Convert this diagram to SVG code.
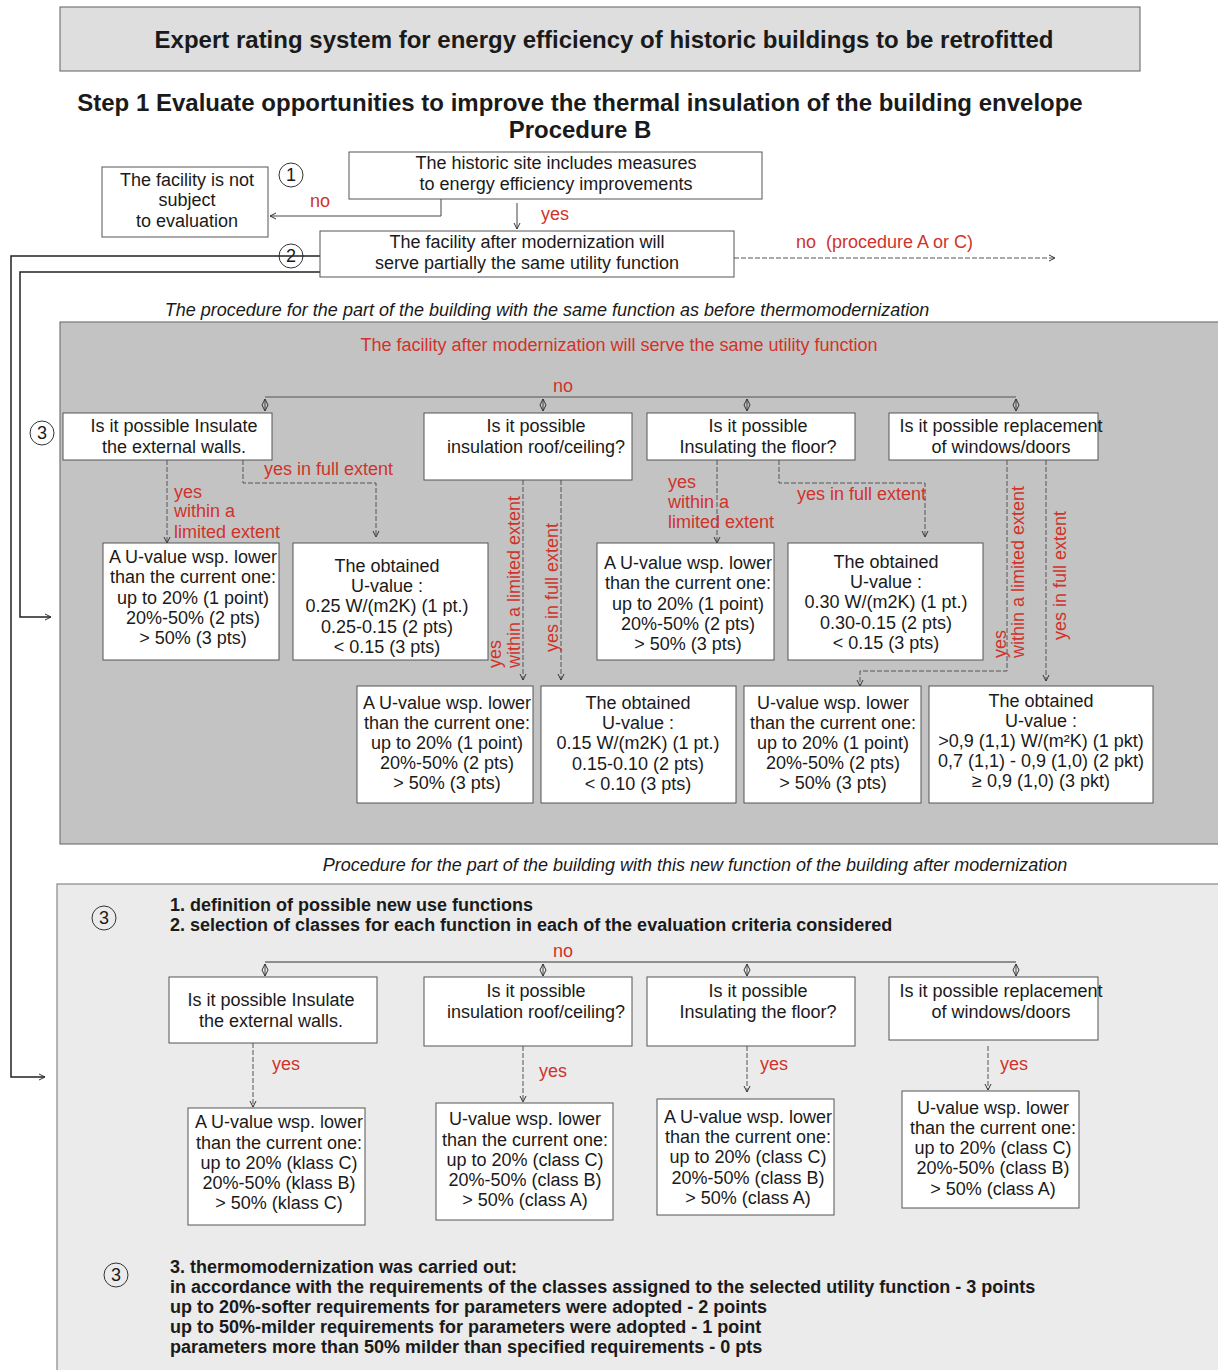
<svg xmlns="http://www.w3.org/2000/svg" width="1218" height="1370" viewBox="0 0 1218 1370">
<defs>
<marker id="arr" markerUnits="userSpaceOnUse" markerWidth="10" markerHeight="10" refX="7" refY="4" orient="auto-start-reverse">
<path d="M1,1 L7,4 L1,7" fill="none" stroke="#333" stroke-width="1"/>
</marker>
</defs>
<style>
text{font-family:"Liberation Sans",Arial,sans-serif;fill:#1a1a1a}
.t{font-size:18px;text-anchor:middle}
.r{font-size:18px;fill:#d0332b}
.rc{font-size:18px;fill:#d0332b;text-anchor:middle}
.b{font-weight:bold}
.bs{font-weight:bold;font-size:18px}
.h{font-weight:bold;font-size:24px;text-anchor:middle}
.it{font-style:italic;font-size:18px;text-anchor:middle}
.box{fill:#fff;stroke:#555;stroke-width:1}
.c{fill:none;stroke:#333;stroke-width:1}
.ln{fill:none;stroke:#444;stroke-width:1}
.dl{fill:none;stroke:#555;stroke-width:1;stroke-dasharray:5 2}
.ar{marker-end:url(#arr)}
.da{marker-start:url(#arr);marker-end:url(#arr)}
.thick{fill:none;stroke:#222;stroke-width:1.5}
</style>

<g id="panels">
<rect x="60" y="7" width="1080" height="64" fill="#dedede" stroke="#777" stroke-width="1.2"/>
<rect x="60" y="322" width="1160" height="522" fill="#c3c3c3" stroke="#777" stroke-width="1.2"/>
<rect x="57" y="884" width="1163" height="490" fill="#ebebeb" stroke="#888" stroke-width="1.2"/>
</g>

<g id="headings">
<text x="604" y="48" class="h">Expert rating system for energy efficiency of historic buildings to be retrofitted</text>
<text x="580" y="111" class="h">Step 1 Evaluate opportunities to improve the thermal insulation of the building envelope</text>
<text x="580" y="138" class="h">Procedure B</text>
<text x="547" y="316" class="it">The procedure for the part of the building with the same function as before thermomodernization</text>
<text x="695" y="871" class="it">Procedure for the part of the building with this new function of the building after modernization</text>
<text x="619" y="351" class="rc">The facility after modernization will serve the same utility function</text>
</g>

<g id="markers-circles">
<circle cx="291" cy="175" r="12" class="c"/><text x="291" y="181" class="t">1</text>
<circle cx="291" cy="256" r="12" class="c"/><text x="291" y="262" class="t">2</text>
<circle cx="42" cy="433" r="12" class="c"/><text x="42" y="439" class="t">3</text>
<circle cx="104" cy="918" r="12" class="c"/><text x="104" y="924" class="t">3</text>
<circle cx="116" cy="1275" r="12" class="c"/><text x="116" y="1281" class="t">3</text>
</g>

<g id="connectors">
<polyline points="441,199 441,216 270,216" class="ln ar" stroke="#777"/>
<line x1="517" y1="203" x2="517" y2="229" class="ln ar"/>
<line x1="734" y1="258" x2="1055" y2="258" class="dl ar"/>
<polyline points="328,256 11,256 11,1077 45,1077" class="thick ar"/>
<polyline points="320,272 20,272 20,617 51,617" class="thick ar"/>
<line x1="265" y1="397" x2="1016" y2="397" stroke="#555" stroke-width="1.2"/>
<line x1="265" y1="399" x2="265" y2="411" class="ln da"/>
<line x1="543" y1="399" x2="543" y2="411" class="ln da"/>
<line x1="747" y1="399" x2="747" y2="411" class="ln da"/>
<line x1="1016" y1="399" x2="1016" y2="411" class="ln da"/>
<line x1="167" y1="460" x2="167" y2="543" class="dl ar"/>
<polyline points="243,460 243,483 376,483 376,537" class="dl ar"/>
<line x1="523" y1="480" x2="523" y2="680" class="dl ar"/>
<line x1="561" y1="480" x2="561" y2="680" class="dl ar"/>
<line x1="717" y1="460" x2="717" y2="543" class="dl ar"/>
<polyline points="779,460 779,483 925,483 925,537" class="dl ar"/>
<polyline points="1007,460 1007,671 860,671 860,686" class="dl ar"/>
<line x1="1046" y1="460" x2="1046" y2="681" class="dl ar"/>
<line x1="265" y1="962" x2="1016" y2="962" stroke="#333" stroke-width="1.2"/>
<line x1="265" y1="964" x2="265" y2="976" class="ln da"/>
<line x1="543" y1="964" x2="543" y2="976" class="ln da"/>
<line x1="747" y1="964" x2="747" y2="976" class="ln da"/>
<line x1="1016" y1="964" x2="1016" y2="976" class="ln da"/>
<line x1="253" y1="1043" x2="253" y2="1107" class="dl ar"/>
<line x1="523" y1="1046" x2="523" y2="1102" class="dl ar"/>
<line x1="747" y1="1046" x2="747" y2="1092" class="dl ar"/>
<line x1="988" y1="1046" x2="988" y2="1090" class="dl ar"/>
</g>

<g id="connector-labels">
<text x="310" y="207" class="r">no</text>
<text x="541" y="220" class="r">yes</text>
<text x="796" y="248" class="r">no&#160; (procedure A or C)</text>
<text x="563" y="392" class="rc">no</text>
<text x="174" y="498" class="r">yes</text>
<text x="174" y="517" class="r">within a</text>
<text x="174" y="538" class="r">limited extent</text>
<text x="264" y="475" class="r">yes in full extent</text>
<text x="501" y="668" class="r" transform="rotate(-90 501 668)">yes</text>
<text x="520" y="668" class="r" transform="rotate(-90 520 668)">within a limited extent</text>
<text x="558" y="652" class="r" transform="rotate(-90 558 652)">yes in full extent</text>
<text x="668" y="488" class="r">yes</text>
<text x="668" y="508" class="r">within a</text>
<text x="668" y="528" class="r">limited extent</text>
<text x="797" y="500" class="r">yes in full extent</text>
<text x="1006" y="658" class="r" transform="rotate(-90 1006 658)">yes</text>
<text x="1024" y="658" class="r" transform="rotate(-90 1024 658)">within a limited extent</text>
<text x="1066" y="640" class="r" transform="rotate(-90 1066 640)">yes in full extent</text>
<text x="563" y="957" class="rc">no</text>
<text x="272" y="1070" class="r">yes</text>
<text x="539" y="1077" class="r">yes</text>
<text x="760" y="1070" class="r">yes</text>
<text x="1000" y="1070" class="r">yes</text>
</g>

<g id="n-not-subject">
<rect x="102" y="167" width="166" height="70" class="box"/>
<text x="187" y="186" class="t">The facility is not</text>
<text x="187" y="206" class="t">subject</text>
<text x="187" y="227" class="t">to evaluation</text>
</g>
<g id="n-historic">
<rect x="349" y="152" width="413" height="47" class="box"/>
<text x="556" y="169" class="t">The historic site includes measures</text>
<text x="556" y="190" class="t">to energy efficiency improvements</text>
</g>
<g id="n-partial">
<rect x="320" y="231" width="414" height="46" class="box"/>
<text x="527" y="248" class="t">The facility after modernization will</text>
<text x="527" y="269" class="t">serve partially the same utility function</text>
</g>

<g id="q1-walls">
<rect x="63" y="413" width="209" height="47" class="box"/>
<text x="174" y="432" class="t">Is it possible Insulate</text>
<text x="174" y="453" class="t">the external walls.</text>
</g>
<g id="q1-roof">
<rect x="424" y="413" width="208" height="67" class="box"/>
<text x="536" y="432" class="t">Is it possible</text>
<text x="536" y="453" class="t">insulation roof/ceiling?</text>
</g>
<g id="q1-floor">
<rect x="647" y="413" width="208" height="47" class="box"/>
<text x="758" y="432" class="t">Is it possible</text>
<text x="758" y="453" class="t">Insulating the floor?</text>
</g>
<g id="q1-windows">
<rect x="889" y="413" width="209" height="47" class="box"/>
<text x="1001" y="432" class="t">Is it possible replacement</text>
<text x="1001" y="453" class="t">of windows/doors</text>
</g>

<g id="r1-walls-limited">
<rect x="103" y="543" width="176" height="117" class="box"/>
<text x="193" y="563" class="t">A U-value wsp. lower</text>
<text x="193" y="583" class="t">than the current one:</text>
<text x="193" y="604" class="t">up to 20% (1 point)</text>
<text x="193" y="624" class="t">20%-50% (2 pts)</text>
<text x="193" y="644" class="t">&gt; 50% (3 pts)</text>
</g>
<g id="r1-walls-full">
<rect x="293" y="543" width="195" height="117" class="box"/>
<text x="387" y="572" class="t">The obtained</text>
<text x="387" y="592" class="t">U-value :</text>
<text x="387" y="612" class="t">0.25 W/(m2K) (1 pt.)</text>
<text x="387" y="633" class="t">0.25-0.15 (2 pts)</text>
<text x="387" y="653" class="t">&lt; 0.15 (3 pts)</text>
</g>
<g id="r1-floor-limited">
<rect x="597" y="543" width="177" height="117" class="box"/>
<text x="688" y="569" class="t">A U-value wsp. lower</text>
<text x="688" y="589" class="t">than the current one:</text>
<text x="688" y="610" class="t">up to 20% (1 point)</text>
<text x="688" y="630" class="t">20%-50% (2 pts)</text>
<text x="688" y="650" class="t">&gt; 50% (3 pts)</text>
</g>
<g id="r1-floor-full">
<rect x="788" y="543" width="195" height="117" class="box"/>
<text x="886" y="568" class="t">The obtained</text>
<text x="886" y="588" class="t">U-value :</text>
<text x="886" y="608" class="t">0.30 W/(m2K) (1 pt.)</text>
<text x="886" y="629" class="t">0.30-0.15 (2 pts)</text>
<text x="886" y="649" class="t">&lt; 0.15 (3 pts)</text>
</g>
<g id="r1-roof-limited">
<rect x="357" y="686" width="176" height="117" class="box"/>
<text x="447" y="709" class="t">A U-value wsp. lower</text>
<text x="447" y="729" class="t">than the current one:</text>
<text x="447" y="749" class="t">up to 20% (1 point)</text>
<text x="447" y="769" class="t">20%-50% (2 pts)</text>
<text x="447" y="789" class="t">&gt; 50% (3 pts)</text>
</g>
<g id="r1-roof-full">
<rect x="541" y="686" width="195" height="117" class="box"/>
<text x="638" y="709" class="t">The obtained</text>
<text x="638" y="729" class="t">U-value :</text>
<text x="638" y="749" class="t">0.15 W/(m2K) (1 pt.)</text>
<text x="638" y="770" class="t">0.15-0.10 (2 pts)</text>
<text x="638" y="790" class="t">&lt; 0.10 (3 pts)</text>
</g>
<g id="r1-windows-limited">
<rect x="744" y="686" width="177" height="117" class="box"/>
<text x="833" y="709" class="t">U-value wsp. lower</text>
<text x="833" y="729" class="t">than the current one:</text>
<text x="833" y="749" class="t">up to 20% (1 point)</text>
<text x="833" y="769" class="t">20%-50% (2 pts)</text>
<text x="833" y="789" class="t">&gt; 50% (3 pts)</text>
</g>
<g id="r1-windows-full">
<rect x="929" y="686" width="224" height="117" class="box"/>
<text x="1041" y="707" class="t">The obtained</text>
<text x="1041" y="727" class="t">U-value :</text>
<text x="1041" y="747" class="t">&gt;0,9 (1,1) W/(m²K) (1 pkt)</text>
<text x="1041" y="767" class="t">0,7 (1,1) - 0,9 (1,0) (2 pkt)</text>
<text x="1041" y="787" class="t">≥ 0,9 (1,0) (3 pkt)</text>
</g>

<g id="steps-1-2">
<text x="170" y="911" class="bs">1. definition of possible new use functions</text>
<text x="170" y="931" class="bs">2. selection of classes for each function in each of the evaluation criteria considered</text>
</g>
<g id="q2-walls">
<rect x="169" y="977" width="208" height="66" class="box"/>
<text x="271" y="1006" class="t">Is it possible Insulate</text>
<text x="271" y="1027" class="t">the external walls.</text>
</g>
<g id="q2-roof">
<rect x="424" y="977" width="208" height="69" class="box"/>
<text x="536" y="997" class="t">Is it possible</text>
<text x="536" y="1018" class="t">insulation roof/ceiling?</text>
</g>
<g id="q2-floor">
<rect x="647" y="977" width="208" height="69" class="box"/>
<text x="758" y="997" class="t">Is it possible</text>
<text x="758" y="1018" class="t">Insulating the floor?</text>
</g>
<g id="q2-windows">
<rect x="889" y="977" width="209" height="63" class="box"/>
<text x="1001" y="997" class="t">Is it possible replacement</text>
<text x="1001" y="1018" class="t">of windows/doors</text>
</g>
<g id="r2-walls">
<rect x="188" y="1108" width="177" height="117" class="box"/>
<text x="279" y="1128" class="t">A U-value wsp. lower</text>
<text x="279" y="1149" class="t">than the current one:</text>
<text x="279" y="1169" class="t">up to 20% (klass C)</text>
<text x="279" y="1189" class="t">20%-50% (klass B)</text>
<text x="279" y="1209" class="t">&gt; 50% (klass C)</text>
</g>
<g id="r2-roof">
<rect x="436" y="1103" width="177" height="117" class="box"/>
<text x="525" y="1125" class="t">U-value wsp. lower</text>
<text x="525" y="1146" class="t">than the current one:</text>
<text x="525" y="1166" class="t">up to 20% (class C)</text>
<text x="525" y="1186" class="t">20%-50% (class B)</text>
<text x="525" y="1206" class="t">&gt; 50% (class A)</text>
</g>
<g id="r2-floor">
<rect x="657" y="1099" width="177" height="116" class="box"/>
<text x="748" y="1123" class="t">A U-value wsp. lower</text>
<text x="748" y="1143" class="t">than the current one:</text>
<text x="748" y="1163" class="t">up to 20% (class C)</text>
<text x="748" y="1184" class="t">20%-50% (class B)</text>
<text x="748" y="1204" class="t">&gt; 50% (class A)</text>
</g>
<g id="r2-windows">
<rect x="902" y="1091" width="177" height="117" class="box"/>
<text x="993" y="1114" class="t">U-value wsp. lower</text>
<text x="993" y="1134" class="t">than the current one:</text>
<text x="993" y="1154" class="t">up to 20% (class C)</text>
<text x="993" y="1174" class="t">20%-50% (class B)</text>
<text x="993" y="1195" class="t">&gt; 50% (class A)</text>
</g>
<g id="step-3">
<text x="170" y="1273" class="bs">3. thermomodernization was carried out:</text>
<text x="170" y="1293" class="bs">in accordance with the requirements of the classes assigned to the selected utility function - 3 points</text>
<text x="170" y="1313" class="bs">up to 20%-softer requirements for parameters were adopted - 2 points</text>
<text x="170" y="1333" class="bs">up to 50%-milder requirements for parameters were adopted - 1 point</text>
<text x="170" y="1353" class="bs">parameters more than 50% milder than specified requirements - 0 pts</text>
</g>
</svg>
